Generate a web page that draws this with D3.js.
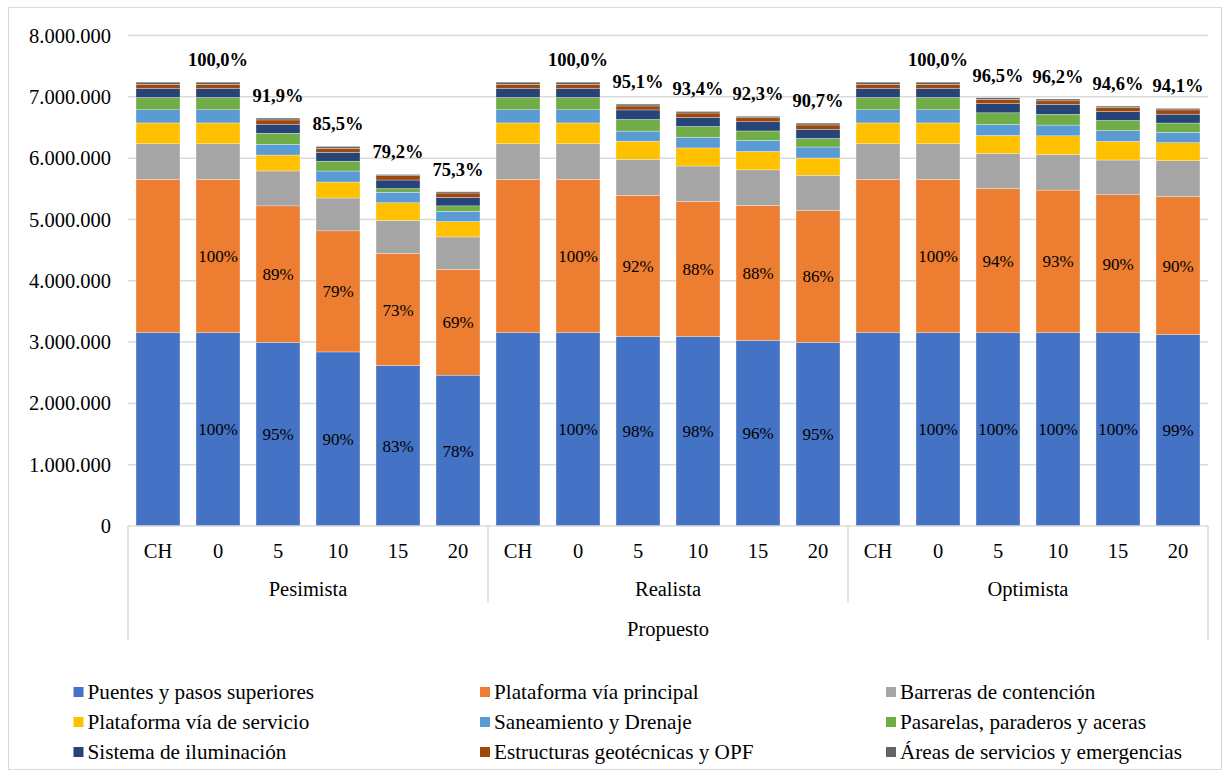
<!DOCTYPE html>
<html>
<head>
<meta charset="utf-8">
<script src="https://cdn.jsdelivr.net/npm/d3@7"></script>
<style>
  html, body { margin: 0; padding: 0; background: #ffffff; }
  text { font-family: "Liberation Serif", "Times New Roman", serif; fill: #000; }
</style>
</head>
<body>
<svg id="chart" width="1231" height="778"></svg>
<script>
// ---------------- DATA ----------------
const groups = ["Pesimista", "Realista", "Optimista"];
const subcats = ["CH", "0", "5", "10", "15", "20"];
const outerLabel = "Propuesto";
const yTicks = [0, 1000000, 2000000, 3000000, 4000000, 5000000, 6000000, 7000000, 8000000];

const seriesNames = [
  "Puentes y pasos superiores",
  "Plataforma vía principal",
  "Barreras de contención",
  "Plataforma vía de servicio",
  "Saneamiento y Drenaje",
  "Pasarelas, paraderos y aceras",
  "Sistema de iluminación",
  "Estructuras geotécnicas y OPF",
  "Áreas de servicios y emergencias"
];
const seriesColors = ["#4472C4", "#ED7D31", "#A5A5A5", "#FFC000", "#5B9BD5", "#70AD47", "#264478", "#9E480E", "#636363"];

// values per bar (18 bars: Pesimista CH..20, Realista CH..20, Optimista CH..20)
const puentes = [3154000, 3154000, 2996000, 2839000, 2618000, 2460000,
                 3154000, 3154000, 3091000, 3091000, 3028000, 2996000,
                 3154000, 3154000, 3154000, 3154000, 3154000, 3122000];
const platPrincipal = [2500000, 2500000, 2225000, 1975000, 1825000, 1725000,
                       2500000, 2500000, 2300000, 2200000, 2200000, 2150000,
                       2500000, 2500000, 2350000, 2325000, 2250000, 2250000];
const barreras = [580000, 580000, 570000, 536000, 540000, 530000,
                  580000, 580000, 590000, 580000, 580000, 575000,
                  580000, 580000, 570000, 580000, 565000, 585000];
const platServicio = [340000, 340000, 260000, 260000, 290000, 250000,
                      340000, 340000, 295000, 295000, 300000, 280000,
                      340000, 340000, 295000, 305000, 305000, 295000];
const saneamiento = [215000, 215000, 175000, 180000, 170000, 166000,
                     215000, 215000, 165000, 175000, 180000, 180000,
                     215000, 215000, 180000, 175000, 175000, 170000];
const pasarelas = [200000, 200000, 180000, 160000, 60000, 90000,
                   200000, 200000, 190000, 175000, 155000, 140000,
                   200000, 200000, 190000, 175000, 165000, 150000];
const iluminacion = [145000, 145000, 147000, 145000, 140000, 140000,
                     145000, 145000, 155000, 145000, 150000, 150000,
                     145000, 145000, 150000, 160000, 145000, 145000];
const geotecnicas = [70000, 70000, 70000, 65000, 70000, 70000,
                     70000, 70000, 65000, 75000, 65000, 70000,
                     70000, 70000, 70000, 60000, 65000, 70000];
const areas = [35000, 35000, 30000, 30000, 20000, 20000,
               35000, 35000, 30000, 25000, 25000, 30000,
               35000, 35000, 25000, 30000, 25000, 24000];

// labels
const puentesPct = [null, "100%", "95%", "90%", "83%", "78%",
                    null, "100%", "98%", "98%", "96%", "95%",
                    null, "100%", "100%", "100%", "100%", "99%"];
const principalPct = [null, "100%", "89%", "79%", "73%", "69%",
                      null, "100%", "92%", "88%", "88%", "86%",
                      null, "100%", "94%", "93%", "90%", "90%"];
const totalPct = [null, "100,0%", "91,9%", "85,5%", "79,2%", "75,3%",
                  null, "100,0%", "95,1%", "93,4%", "92,3%", "90,7%",
                  null, "100,0%", "96,5%", "96,2%", "94,6%", "94,1%"];

// ---------------- BUILD ----------------
const seriesValues = [puentes, platPrincipal, barreras, platServicio, saneamiento,
                      pasarelas, iluminacion, geotecnicas, areas];
const keys = [];
groups.forEach(g => subcats.forEach(s => keys.push(g + "|" + s)));
const rows = keys.map((k, i) => {
  const r = { key: k, group: k.split("|")[0], sub: k.split("|")[1] };
  seriesNames.forEach((n, j) => r[n] = seriesValues[j][i]);
  return r;
});

const svg = d3.select("#chart");
const left = 128, right = 1208, y0px = 526, yTop = 35.5;
const grid = "#d9d9d9";

// outer border
svg.append("rect").attr("x", 8.5).attr("y", 7.5).attr("width", 1213).attr("height", 762)
  .attr("fill", "none").attr("stroke", grid).attr("stroke-width", 1);

const x = d3.scaleBand().domain(keys).range([left, right]).paddingInner(0.267).paddingOuter(0.1335);
const y = d3.scaleLinear().domain([0, 8000000]).range([y0px, yTop]);

// gridlines
svg.append("g").selectAll("line").data(yTicks.filter(t => t > 0)).join("line")
  .attr("x1", left).attr("x2", right)
  .attr("y1", d => y(d)).attr("y2", d => y(d))
  .attr("stroke", grid).attr("stroke-width", 1.5);

// y axis labels
const fmt = d => d === 0 ? "0" : d3.format(",")(d).replace(/,/g, ".");
const yAxis = d3.axisLeft(y).tickValues(yTicks).tickFormat(fmt).tickSize(0).tickPadding(17);
const yg = svg.append("g").attr("transform", `translate(${left},0)`).call(yAxis);
yg.select(".domain").remove();
yg.selectAll("text").attr("font-size", "20.5px").attr("fill", "#000")
  .style("font-family", '"Liberation Serif", "Times New Roman", serif');

// stacked bars
const stack = d3.stack().keys(seriesNames);
const stacked = stack(rows);
svg.append("g").selectAll("g").data(stacked).join("g")
  .attr("fill", (d, i) => seriesColors[i])
  .selectAll("rect").data(d => d).join("rect")
  .attr("x", d => x(d.data.key))
  .attr("width", x.bandwidth())
  .attr("y", d => y(d[1]))
  .attr("height", d => y(d[0]) - y(d[1]))
  .attr("stroke", "#ffffff").attr("stroke-width", 0.5).attr("stroke-opacity", 0.6);

// x axis baseline
svg.append("line").attr("x1", left).attr("x2", right).attr("y1", y0px).attr("y2", y0px)
  .attr("stroke", grid).attr("stroke-width", 1.5);

// separators
const sepXs = [left, left + (right - left) / 3, left + 2 * (right - left) / 3, right];
svg.append("g").selectAll("line").data(sepXs).join("line")
  .attr("x1", d => d).attr("x2", d => d)
  .attr("y1", y0px)
  .attr("y2", (d, i) => (i === 0 || i === sepXs.length - 1) ? 640 : 603)
  .attr("stroke", grid).attr("stroke-width", 1.5);

// category labels
svg.append("g").selectAll("text").data(rows).join("text")
  .attr("x", d => x(d.key) + x.bandwidth() / 2)
  .attr("y", 558)
  .attr("text-anchor", "middle").attr("font-size", "20.5px")
  .text(d => d.sub);

// group labels
svg.append("g").selectAll("text").data(groups).join("text")
  .attr("x", (d, i) => (sepXs[i] + sepXs[i + 1]) / 2)
  .attr("y", 596)
  .attr("text-anchor", "middle").attr("font-size", "20.5px")
  .text(d => d);

svg.append("text").attr("x", (left + right) / 2).attr("y", 636)
  .attr("text-anchor", "middle").attr("font-size", "20.5px").text(outerLabel);

// in-bar labels
const blueLayer = stacked[0], orangeLayer = stacked[1];
svg.append("g").selectAll("text").data(blueLayer.filter((d, i) => puentesPct[i])).join("text")
  .attr("x", d => x(d.data.key) + x.bandwidth() / 2)
  .attr("y", d => (y(d[0]) + y(d[1])) / 2 + 6)
  .attr("text-anchor", "middle").attr("font-size", "17px")
  .text(d => puentesPct[keys.indexOf(d.data.key)]);
svg.append("g").selectAll("text").data(orangeLayer.filter((d, i) => principalPct[i])).join("text")
  .attr("x", d => x(d.data.key) + x.bandwidth() / 2)
  .attr("y", d => (y(d[0]) + y(d[1])) / 2 + 6)
  .attr("text-anchor", "middle").attr("font-size", "17px")
  .text(d => principalPct[keys.indexOf(d.data.key)]);

// total labels
const lastLayer = stacked[stacked.length - 1];
svg.append("g").selectAll("text").data(lastLayer.filter((d, i) => totalPct[i])).join("text")
  .attr("x", d => x(d.data.key) + x.bandwidth() / 2)
  .attr("y", d => y(d[1]) - 16)
  .attr("text-anchor", "middle").attr("font-size", "18.5px").attr("font-weight", "bold")
  .text(d => totalPct[keys.indexOf(d.data.key)]);

// legend
const legX = [73.5, 480, 886];
const legY = [692, 722, 752];
const leg = svg.append("g").selectAll("g").data(seriesNames).join("g")
  .attr("transform", (d, i) => `translate(${legX[i % 3]},${legY[Math.floor(i / 3)]})`);
leg.append("rect").attr("x", 0).attr("y", -5).attr("width", 10).attr("height", 10)
  .attr("fill", (d, i) => seriesColors[i]);
leg.append("text").attr("x", 14).attr("y", 6.5).attr("font-size", "21.2px").text(d => d);
</script>
</body>
</html>
